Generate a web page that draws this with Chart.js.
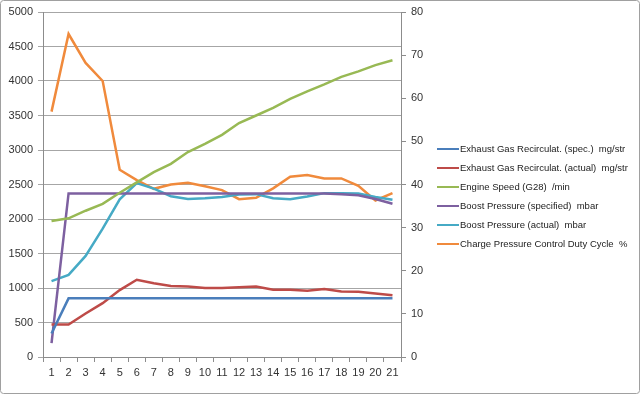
<!DOCTYPE html>
<html>
<head>
<meta charset="utf-8">
<script src="https://cdn.jsdelivr.net/npm/chart.js@4"></script>
<style>
  html, body { margin: 0; padding: 0; background: #fff; }
  #wrap { width: 640px; height: 394px; position: relative; }
</style>
</head>
<body>
<div id="wrap"><canvas id="chart" width="640" height="394"></canvas></div>
<script>
// Category labels (sample number)
const samples = ["1","2","3","4","5","6","7","8","9","10","11","12","13","14","15","16","17","18","19","20","21"];

// Series values (left axis unless noted)
const egrSpec = [340, 850, 850, 850, 850, 850, 850, 850, 850, 850, 850, 850, 850, 850, 850, 850, 850, 850, 850, 850, 850];
const egrActual = [470, 470, 630, 780, 970, 1120, 1070, 1030, 1020, 1000, 1000, 1010, 1020, 975, 975, 960, 985, 950, 945, 920, 895];
const engineSpeed = [1970, 2010, 2120, 2220, 2380, 2530, 2680, 2800, 2970, 3090, 3220, 3390, 3500, 3610, 3740, 3850, 3950, 4060, 4140, 4230, 4300];
const boostSpec = [200, 2370, 2370, 2370, 2370, 2370, 2370, 2370, 2370, 2370, 2370, 2370, 2370, 2370, 2370, 2370, 2370, 2360, 2345, 2290, 2220];
const boostActual = [1100, 1190, 1465, 1860, 2285, 2520, 2440, 2330, 2290, 2300, 2320, 2355, 2360, 2300, 2285, 2325, 2375, 2375, 2370, 2320, 2280];
// right axis, percent
const dutyCycle = [56.9, 74.9, 68.2, 64.0, 43.4, 41.0, 39.0, 40.0, 40.4, 39.6, 38.7, 36.6, 36.9, 39.1, 41.8, 42.2, 41.4, 41.4, 39.7, 36.3, 38.0];

// Axis ranges
const leftMax = 5000, leftStep = 500;
const rightMax = 80, rightStep = 10;

const axisFont = { family: "Liberation Sans", size: 11 };
const gridGray = "#a6a6a6";
const axisGray = "#8c8c8c";

function series(label, data, color, axis) {
  return {
    label,
    data,
    borderColor: color,
    backgroundColor: color,
    borderWidth: 2.5,
    pointRadius: 0,
    tension: 0,
    yAxisID: axis || "y"
  };
}

// Page background and outer frame
const frame = {
  id: "frame",
  beforeDraw(chart) {
    const c = chart.ctx;
    c.save();
    c.fillStyle = "#fff";
    c.fillRect(0, 0, chart.width, chart.height);
    c.restore();
  },
  afterDraw(chart) {
    const c = chart.ctx;
    c.save();
    c.strokeStyle = "#a0a0a0";
    c.lineWidth = 1;
    c.beginPath();
    c.roundRect(0.5, 0.5, chart.width - 1, chart.height - 1, 3);
    c.stroke();
    c.restore();
  }
};

// Legend to the right, Excel style (short line + label)
const sideLegend = {
  id: "sideLegend",
  afterDraw(chart) {
    const c = chart.ctx;
    const area = chart.chartArea;
    const x0 = area.right + 36;
    let y = area.top + 137;
    c.save();
    c.font = "9.5px 'Liberation Sans'";
    c.textBaseline = "middle";
    chart.data.datasets.forEach(ds => {
      c.strokeStyle = ds.borderColor;
      c.lineWidth = 2;
      c.beginPath();
      c.moveTo(x0, y);
      c.lineTo(x0 + 22, y);
      c.stroke();
      c.fillStyle = "#222";
      c.fillText(ds.label, x0 + 23, y);
      y += 19;
    });
    c.restore();
  }
};

new Chart(document.getElementById("chart"), {
  type: "line",
  data: {
    labels: samples,
    datasets: [
      series("Exhaust Gas Recirculat. (spec.)  mg/str", egrSpec, "#4a7ebb"),
      series("Exhaust Gas Recirculat. (actual)  mg/str", egrActual, "#be4b48"),
      series("Engine Speed (G28)  /min", engineSpeed, "#98b954"),
      series("Boost Pressure (specified)  mbar", boostSpec, "#7d60a0"),
      series("Boost Pressure (actual)  mbar", boostActual, "#46aac5"),
      series("Charge Pressure Control Duty Cycle  %", dutyCycle, "#f08a3c", "y1")
    ]
  },
  options: {
    responsive: false,
    animation: false,
    events: [],
    layout: { padding: { top: 12, right: 209, bottom: 7, left: 0 } },
    plugins: {
      legend: { display: false },
      tooltip: { enabled: false }
    },
    scales: {
      x: {
        offset: true,
        grid: { display: true, drawOnChartArea: false, offset: true, tickLength: 5, color: axisGray },
        border: { color: axisGray },
        ticks: { color: "#333", font: axisFont, padding: 4, maxRotation: 0, autoSkip: false },
        afterFit(scale) { scale.height = 30; }
      },
      y: {
        position: "left",
        min: 0,
        max: leftMax,
        grid: { color: gridGray, tickLength: 5 },
        border: { color: axisGray },
        ticks: { stepSize: leftStep, color: "#333", font: axisFont, padding: 5, callback: v => String(v) },
        afterFit(scale) { scale.width = 43; }
      },
      y1: {
        position: "right",
        min: 0,
        max: rightMax,
        grid: { drawOnChartArea: false, color: axisGray, tickLength: 5 },
        border: { color: axisGray },
        ticks: { stepSize: rightStep, color: "#333", font: axisFont, padding: 5, callback: v => String(v) },
        afterFit(scale) { scale.width = 30; }
      }
    }
  },
  plugins: [frame, sideLegend]
});
</script>
</body>
</html>
